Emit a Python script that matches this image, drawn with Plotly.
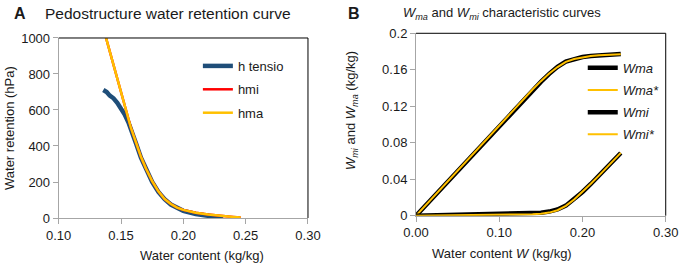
import plotly.graph_objects as go

# ---------------- Panel A data ----------------
w_tensio = [0.1358, 0.1385, 0.141, 0.144, 0.147, 0.150, 0.153, 0.156, 0.158, 0.162, 0.166,
            0.170, 0.175, 0.180, 0.185, 0.190, 0.195, 0.200, 0.210, 0.220, 0.226, 0.232]
h_tensio = [711, 700, 680, 665, 640, 610, 575, 530, 495, 415, 335,
            270, 200, 145, 105, 75, 55, 40, 22, 11, 5, 0]

w_model = [0.138, 0.142, 0.146, 0.150, 0.154, 0.158, 0.162, 0.166, 0.170, 0.175, 0.180,
           0.185, 0.190, 0.195, 0.200, 0.210, 0.220, 0.230, 0.240, 0.246]
h_mi = [1000, 900, 800, 700, 600, 500, 420, 340, 275, 205, 148,
        105, 78, 58, 45, 29, 19, 11, 6, 3]
h_ma = [1000, 900, 800, 700, 600, 500, 420, 340, 275, 205, 148,
        105, 78, 58, 45, 29, 19, 11, 6, 3]

# ---------------- Panel B data ----------------
W = [0.0, 0.02, 0.04, 0.06, 0.08, 0.10, 0.12, 0.14, 0.15, 0.16, 0.17, 0.18,
     0.19, 0.20, 0.21, 0.22, 0.23, 0.24, 0.246]
Wma = [0.0, 0.0197, 0.0394, 0.0592, 0.0790, 0.0987, 0.1183, 0.1375, 0.1467, 0.1555,
       0.1632, 0.1690, 0.1720, 0.1740, 0.1752, 0.1760, 0.1765, 0.1770, 0.1772]
Wma_star = [0.0, 0.0199, 0.0397, 0.0596, 0.0795, 0.0993, 0.1190, 0.1383, 0.1475, 0.1560,
            0.1630, 0.1686, 0.1718, 0.1738, 0.1750, 0.1758, 0.1764, 0.1769, 0.1771]
Wmi = [0.0, 0.0003, 0.0006, 0.0008, 0.0010, 0.0013, 0.0017, 0.0025, 0.0033, 0.0045,
       0.0068, 0.0110, 0.0180, 0.0260, 0.0348, 0.0440, 0.0535, 0.0630, 0.0688]
Wmi_star = [0.0, 0.0001, 0.0002, 0.0003, 0.0004, 0.0006, 0.0009, 0.0015, 0.0022, 0.0034,
            0.0060, 0.0108, 0.0178, 0.0260, 0.0350, 0.0442, 0.0537, 0.0631, 0.0689]

xticksA = [0.10, 0.15, 0.20, 0.25, 0.30]
xticklabelsA = ["0.10", "0.15", "0.20", "0.25", "0.30"]
yticksA = [0, 200, 400, 600, 800, 1000]
xticksB = [0.0, 0.10, 0.20, 0.30]
xticklabelsB = ["0.00", "0.10", "0.20", "0.30"]
yticksB = [0, 0.04, 0.08, 0.12, 0.16, 0.2]
yticklabelsB = ["0", "0.04", "0.08", "0.12", "0.16", "0.2"]

FONT = "Liberation Sans, Arial, sans-serif"
TXT = "#1a1a1a"
GREY = "#a6a6a6"
ORANGE = "#FFC000"
NAVY = "#1F4E79"

fig = go.Figure()

fig.add_trace(go.Scatter(x=w_tensio, y=h_tensio, mode="lines", name="h tensio",
                         line=dict(color=NAVY, width=4.5), xaxis="x", yaxis="y",
                         legend="legend", legendgroup="a1"))
fig.add_trace(go.Scatter(x=w_model, y=h_mi, mode="lines", name="hmi",
                         line=dict(color="#FF0000", width=2.5), xaxis="x", yaxis="y",
                         legend="legend", legendgroup="a2"))
fig.add_trace(go.Scatter(x=w_model, y=h_ma, mode="lines", name="hma",
                         line=dict(color=ORANGE, width=2.5), xaxis="x", yaxis="y",
                         legend="legend", legendgroup="a3"))

fig.add_trace(go.Scatter(x=W, y=Wma, mode="lines", name="<i>Wma</i>",
                         line=dict(color="black", width=4.5), xaxis="x2", yaxis="y2",
                         legend="legend2", legendgroup="b1"))
fig.add_trace(go.Scatter(x=W, y=Wma_star, mode="lines", name="<i>Wma*</i>",
                         line=dict(color=ORANGE, width=2), xaxis="x2", yaxis="y2",
                         legend="legend2", legendgroup="b2"))
fig.add_trace(go.Scatter(x=W, y=Wmi, mode="lines", name="<i>Wmi</i>",
                         line=dict(color="black", width=4.5), xaxis="x2", yaxis="y2",
                         legend="legend2", legendgroup="b3"))
fig.add_trace(go.Scatter(x=W, y=Wmi_star, mode="lines", name="<i>Wmi*</i>",
                         line=dict(color=ORANGE, width=2), xaxis="x2", yaxis="y2",
                         legend="legend2", legendgroup="b4"))

axis_common = dict(showgrid=False, zeroline=False, showline=True, linecolor=GREY,
                   linewidth=1, ticks="outside", tickcolor=GREY, ticklen=5,
                   automargin=False,
                   tickfont=dict(family=FONT, size=13, color=TXT))

fig.update_layout(
    width=680, height=264,
    margin=dict(l=0, r=0, t=0, b=0, pad=0, autoexpand=False),
    paper_bgcolor="white", plot_bgcolor="white",
    font=dict(family=FONT, size=13, color=TXT),
    xaxis=dict(domain=[0.0863, 0.4529], range=[0.10, 0.30], tickvals=xticksA,
               ticktext=xticklabelsA, anchor="y", **axis_common),
    yaxis=dict(domain=[0.1742, 0.8561], range=[0, 1000], tickvals=yticksA,
               anchor="x", **axis_common),
    xaxis2=dict(domain=[0.6118, 0.9790], range=[0, 0.30], tickvals=xticksB,
                ticktext=xticklabelsB, anchor="y2", **axis_common),
    yaxis2=dict(domain=[0.1830, 0.8739], range=[0, 0.2], tickvals=yticksB,
                ticktext=yticklabelsB, anchor="x2", **axis_common),
    legend=dict(x=0.291, y=0.807, xanchor="left", yanchor="top", bgcolor="rgba(0,0,0,0)",
                traceorder="grouped", tracegroupgap=3.5, itemwidth=30,
                font=dict(family=FONT, size=13, color=TXT)),
    legend2=dict(x=0.857, y=0.80, xanchor="left", yanchor="top", bgcolor="rgba(0,0,0,0)",
                 traceorder="grouped", tracegroupgap=2.3, itemwidth=30,
                 font=dict(family=FONT, size=13, color=TXT)),
    showlegend=True,
)

# black frame on top and right of each plot
for xr, yr in (("x domain", "y domain"), ("x2 domain", "y2 domain")):
    fig.add_shape(type="line", xref=xr, yref=yr, x0=0, x1=1, y0=1, y1=1,
                  line=dict(color="black", width=1))
    fig.add_shape(type="line", xref=xr, yref=yr, x0=1, x1=1, y0=0, y1=1,
                  line=dict(color="black", width=1))

ann = [
    dict(text="<b>A</b>", x=12 / 680, y=1 - 14 / 264, xanchor="left", font=dict(size=16)),
    dict(text="Pedostructure water retention curve", x=43 / 680, y=1 - 14 / 264,
         xanchor="left", font=dict(size=15.5)),
    dict(text="<b>B</b>", x=346 / 680, y=1 - 14 / 264, xanchor="left", font=dict(size=16)),
    dict(text="<i>W</i><sub><i>ma</i></sub> and <i>W</i><sub><i>mi</i></sub> characteristic curves",
         x=502 / 680, y=1 - 14 / 264, xanchor="center", font=dict(size=13)),
    dict(text="Water retention (hPa)", x=9 / 680, y=1 - 128 / 264, textangle=-90,
         xanchor="center", font=dict(size=13)),
    dict(text="<i>W</i><sub><i>mi</i></sub> and <i>W</i><sub><i>ma</i></sub> (kg/kg)",
         x=352 / 680, y=1 - 111 / 264, textangle=-90, xanchor="center", font=dict(size=13)),
    dict(text="Water content (kg/kg)", x=202 / 680, y=1 - 255 / 264, xanchor="center",
         font=dict(size=13)),
    dict(text="Water content <i>W</i> (kg/kg)", x=502 / 680, y=1 - 253 / 264,
         xanchor="center", font=dict(size=13)),
]
for a in ann:
    a.update(xref="paper", yref="paper", showarrow=False, yanchor="middle")
    a["font"].update(family=FONT, color=TXT)
    fig.add_annotation(**a)

fig.write_html("out.html",
               config={"displayModeBar": False},
               post_script="document.body.style.margin='0';document.body.style.overflow='hidden';")
